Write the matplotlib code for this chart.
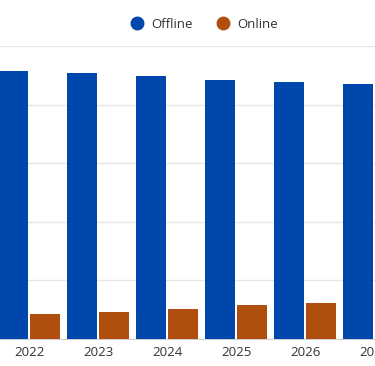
import matplotlib
matplotlib.use('Agg')
import matplotlib.pyplot as plt
from matplotlib.lines import Line2D
import numpy as np

plt.rcParams['font.family'] = ['Open Sans', 'DejaVu Sans']

# share of sales channel, in percent
years = ['2022', '2023', '2024', '2025', '2026', '2027']
offline = [91.4, 90.8, 89.8, 88.5, 87.7, 87.2]
online = [8.6, 9.2, 10.2, 11.5, 12.3, 12.8]

blue = '#0047ab'
orange = '#b04e10'

fig = plt.figure(figsize=(3.75, 3.66), dpi=100)
ax = fig.add_axes([0, 1 - 339 / 366, 1, (339 - 46) / 366])

x = np.arange(len(years))
w = 0.435
ax.bar(x - 0.232, offline, width=w, color=blue, zorder=3)
ax.bar(x + 0.232, online, width=w, color=orange, zorder=3)

ax.set_xlim(-0.42, 5.01)
ax.set_ylim(0, 100)
ax.set_yticks([0, 20, 40, 60, 80, 100])
ax.set_yticklabels([])
ax.tick_params(axis='y', length=0)
ax.yaxis.grid(True, color='#e6e6e6', linewidth=1, zorder=0)
ax.set_xticks(x)
ax.set_xticklabels(years, fontsize=9.5, color='#333333')
ax.tick_params(axis='x', length=0, pad=5)
for s in ['top', 'right', 'left']:
    ax.spines[s].set_visible(False)
ax.spines['bottom'].set_color('#d0d0d0')

handles = [
    Line2D([], [], marker='o', linestyle='', markersize=9, color=blue, label='Offline'),
    Line2D([], [], marker='o', linestyle='', markersize=9, color=orange, label='Online'),
]
fig.legend(handles=handles, loc='center', bbox_to_anchor=(201 / 375, 1 - 24 / 366),
           ncol=2, frameon=False, fontsize=9.5, handletextpad=0.1, columnspacing=1.3,
           labelcolor='#333333')

fig.savefig('out.png', dpi=100)
